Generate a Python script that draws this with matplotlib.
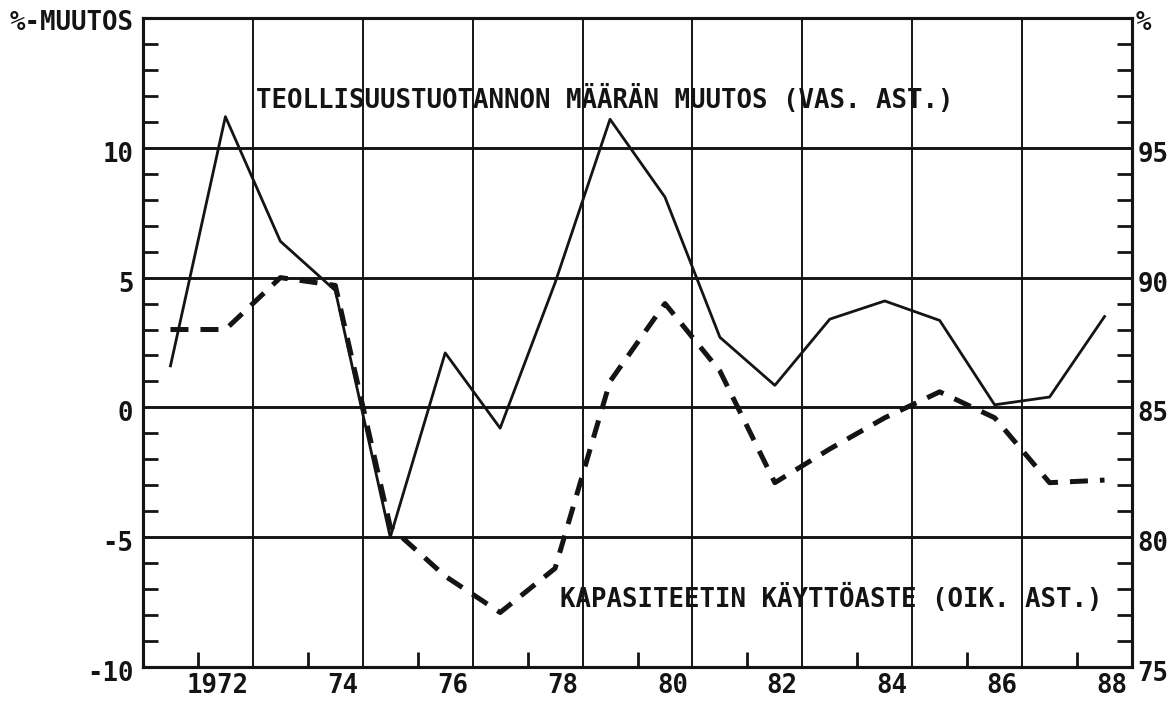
import numpy as np
import matplotlib
matplotlib.use("Agg")
import matplotlib.pyplot as plt
from matplotlib.transforms import ScaledTranslation

# --- data ---
years = np.arange(1971, 1989)
# teollisuustuotannon määrän muutos, % (left axis)
tuotanto = [1.6, 11.2, 6.4, 4.5, -5.0, 2.1, -0.8, 4.8, 11.1, 8.1,
            2.7, 0.85, 3.4, 4.1, 3.35, 0.1, 0.4, 3.5]
# kapasiteetin käyttöaste, % (right axis)
kaytto = [88.0, 88.0, 90.0, 89.7, 80.4, 78.5, 77.1, 78.8, 86.0, 89.0,
          86.4, 82.1, 83.4, 84.6, 85.6, 84.6, 82.1, 82.2]

left_ticks = [-10, -5, 0, 5, 10]
right_ticks = [75, 80, 85, 90, 95]
year_ticks = np.arange(1972, 1989, 2)
year_labels = ["1972", "74", "76", "78", "80", "82", "84", "86", "88"]
vgrid = np.arange(1972.5, 1987, 2)

ink = "#141414"
plt.rcParams['font.family'] = ['DejaVu Sans Mono']
plt.rcParams['font.weight'] = 'bold'
fs = 18.5

fig = plt.figure(figsize=(11.76, 7.01), dpi=100)
ax = fig.add_axes([143/1176, 1 - 667/701, (1132-143)/1176, (667-18)/701])
ax2 = ax.twinx()

ax.set_xlim(1970.5, 1988.5)
ax.set_ylim(-10, 15)
ax2.set_ylim(75, 100)

# grid
for v in left_ticks[1:]:
    ax.axhline(v, color=ink, lw=2.1, zorder=1)
for x in vgrid:
    ax.axvline(x, color=ink, lw=1.4, zorder=1)

ax.plot(years, tuotanto, color=ink, lw=2.0, zorder=3)
ax2.plot(years, kaytto, color=ink, lw=3.6, dashes=(3.6, 2.4),
         dash_capstyle='butt', zorder=3)

for s in ax.spines.values():
    s.set_linewidth(2.2)
    s.set_color(ink)
for s in ax2.spines.values():
    s.set_linewidth(2.2)
    s.set_color(ink)

# left axis ticks
ax.set_yticks(left_ticks)
ax.set_yticklabels([str(v) for v in left_ticks])
ax.set_yticks([v for v in range(-9, 15) if v % 5 != 0], minor=True)
ax.tick_params(axis='y', which='major', length=0, pad=7, labelsize=fs, labelcolor=ink)
ax.tick_params(axis='y', which='minor', direction='in', length=11, width=2.0, color=ink)

# right axis ticks
ax2.set_yticks(right_ticks)
ax2.set_yticklabels([str(v) for v in right_ticks])
ax2.set_yticks([v for v in range(76, 100) if v % 5 != 0], minor=True)
ax2.tick_params(axis='y', which='major', length=0, pad=4, labelsize=fs, labelcolor=ink)
ax2.tick_params(axis='y', which='minor', direction='in', length=11, width=2.0, color=ink)

down = ScaledTranslation(0, -0.04, fig.dpi_scale_trans)
for lab in ax.get_yticklabels() + ax2.get_yticklabels():
    lab.set_transform(lab.get_transform() + down)

# x axis
ax.set_xticks(year_ticks)
ax.set_xticklabels(year_labels)
ax.set_xticks(np.arange(1971.5, 1988, 2), minor=True)
ax.tick_params(axis='x', which='major', length=0, pad=4, labelsize=fs, labelcolor=ink)
ax.tick_params(axis='x', which='minor', direction='in', length=11, width=2.0, color=ink)
off = ScaledTranslation(0.23, 0, fig.dpi_scale_trans)
for lab in ax.get_xticklabels():
    lab.set_ha('right')
    lab.set_transform(lab.get_transform() + off)

# texts
ax.text(-0.009, 0.992, "%-MUUTOS", transform=ax.transAxes, ha='right', va='center',
        fontsize=fs, color=ink)
ax.text(1.004, 0.992, "%", transform=ax.transAxes, ha='left', va='center',
        fontsize=fs, color=ink)
ax.text(1972.55, 11.54, "TEOLLISUUSTUOTANNON MÄÄRÄN MUUTOS (VAS. AST.)",
        ha='left', va='baseline', fontsize=fs, color=ink, zorder=4)
ax.text(1978.09, -7.69, "KAPASITEETIN KÄYTTÖASTE (OIK. AST.)",
        ha='left', va='baseline', fontsize=fs, color=ink, zorder=4)

fig.savefig("out.png", dpi=100, facecolor='white')
